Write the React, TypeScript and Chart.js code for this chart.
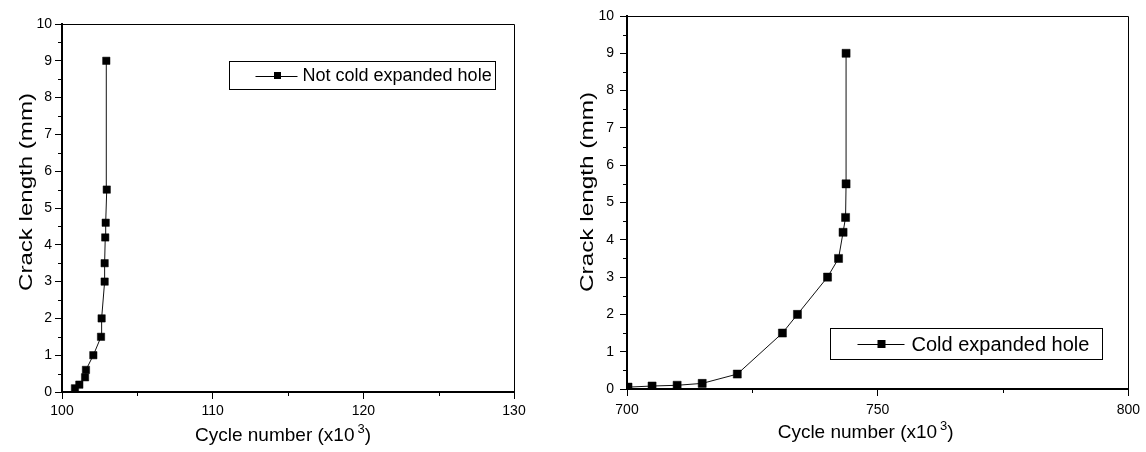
import React, { useEffect, useRef } from 'react';
import { Chart, registerables } from 'chart.js';

Chart.register(...registerables);

// ---- data ----
const leftCycles = [100.86, 101.15, 101.53, 101.59, 102.08, 102.59, 102.63, 102.83, 102.83, 102.87, 102.9, 102.97, 102.94];
const leftCrack = [0.1, 0.2, 0.4, 0.6, 1.0, 1.5, 2.0, 3.0, 3.5, 4.2, 4.6, 5.5, 9.0];
const rightCycles = [700.2, 705, 710, 715, 722, 731, 734, 740, 742.2, 743.1, 743.6, 743.7, 743.7];
const rightCrack = [0.05, 0.08, 0.1, 0.15, 0.4, 1.5, 2.0, 3.0, 3.5, 4.2, 4.6, 5.5, 9.0];

const leftXTicks = [100, 110, 120, 130];
const leftXMinor = [105, 115, 125];
const rightXTicks = [700, 750, 800];
const rightXMinor = [725, 775];
const yTicks = [0, 1, 2, 3, 4, 5, 6, 7, 8, 9, 10];
const yMinor = [0.5, 1.5, 2.5, 3.5, 4.5, 5.5, 6.5, 7.5, 8.5, 9.5];

const leftLabel = 'Not cold expanded hole';
const rightLabel = 'Cold expanded hole';
const xTitleMain = 'Cycle number (x10';
const xTitleSup = '3';
const xTitleEnd = ')';
const yTitle = 'Crack length (mm)';

const FONT = '"Liberation Sans", Arial, Helvetica, sans-serif';

const decorPlugin = {
  id: 'decor',
  afterDraw(chart: any, _args: any, o: any) {
    const ctx = chart.ctx as CanvasRenderingContext2D;
    const a = chart.chartArea;
    const xs = chart.scales.x;
    const ys = chart.scales.y;
    ctx.save();
    // frame (top + right)
    ctx.strokeStyle = '#000';
    ctx.lineWidth = 1;
    ctx.beginPath();
    ctx.moveTo(a.left, Math.round(a.top) + 0.5);
    ctx.lineTo(Math.round(a.right) + 0.5, Math.round(a.top) + 0.5);
    ctx.lineTo(Math.round(a.right) + 0.5, a.bottom);
    ctx.stroke();
    // minor ticks
    ctx.beginPath();
    for (const v of o.xMinor) {
      const px = Math.round(xs.getPixelForValue(v)) + 0.5;
      ctx.moveTo(px, a.bottom);
      ctx.lineTo(px, a.bottom + o.minorLen);
    }
    for (const v of o.yMinor) {
      const py = Math.round(ys.getPixelForValue(v)) + 0.5;
      ctx.moveTo(a.left, py);
      ctx.lineTo(a.left - o.minorLen, py);
    }
    ctx.stroke();

    // legend
    const L = o.legend;
    const bx = Math.round(a.right - L.rightGap - L.w) + 0.5;
    const by = Math.round(a.top + L.topGap) + 0.5;
    ctx.fillStyle = '#fff';
    ctx.fillRect(bx, by, L.w, L.h);
    ctx.strokeStyle = '#000';
    ctx.lineWidth = 1;
    ctx.strokeRect(bx, by, L.w, L.h);
    const cy = by + L.h / 2;
    ctx.beginPath();
    ctx.moveTo(bx + L.lineFrom, Math.round(cy) + 0.5);
    ctx.lineTo(bx + L.lineTo, Math.round(cy) + 0.5);
    ctx.stroke();
    ctx.fillStyle = '#000';
    ctx.fillRect(bx + L.marker - L.ms / 2, cy - L.ms / 2, L.ms, L.ms);
    ctx.font = `${L.font}px ${FONT}`;
    ctx.textAlign = 'left';
    ctx.textBaseline = 'middle';
    ctx.fillText(L.text, bx + L.textX, cy + 1);

    // x title with superscript
    const cx = (a.left + a.right) / 2 + o.xTitleShift;
    ctx.font = `${o.titleFont}px ${FONT}`;
    const w1 = ctx.measureText(xTitleMain).width;
    const w3 = ctx.measureText(xTitleEnd).width;
    ctx.font = `${o.supFont}px ${FONT}`;
    const w2 = ctx.measureText(xTitleSup).width;
    const gap = 3;
    const total = w1 + gap + w2 + w3;
    const x0 = cx - total / 2;
    ctx.textBaseline = 'alphabetic';
    ctx.font = `${o.titleFont}px ${FONT}`;
    ctx.fillText(xTitleMain, x0, o.xTitleBase);
    ctx.font = `${o.supFont}px ${FONT}`;
    ctx.fillText(xTitleSup, x0 + w1 + gap, o.xTitleBase - 8);
    ctx.font = `${o.titleFont}px ${FONT}`;
    ctx.fillText(xTitleEnd, x0 + w1 + gap + w2, o.xTitleBase);

    // y title (rotated, stretched along its length)
    ctx.font = `${o.titleFont}px ${FONT}`;
    const yw = ctx.measureText(yTitle).width;
    ctx.translate(o.yTitleX, o.yTitleY);
    ctx.rotate(-Math.PI / 2);
    ctx.scale(o.yTitleLen / yw, 1);
    ctx.textAlign = 'center';
    ctx.textBaseline = 'middle';
    ctx.fillText(yTitle, 0, 0);
    ctx.restore();
  },
};

function makeConfig(p: any) {
  return {
    type: 'line',
    data: {
      datasets: [
        {
          label: p.label,
          data: p.xs.map((x: number, i: number) => ({ x, y: p.ys[i] })),
          borderColor: '#111',
          borderWidth: 1,
          pointStyle: 'rect',
          pointRadius: p.pointRadius,
          pointBackgroundColor: '#000',
          pointBorderColor: '#000',
          pointBorderWidth: 0.5,
          tension: 0,
          fill: false,
        },
      ],
    },
    options: {
      responsive: false,
      animation: false,
      events: [],
      layout: { padding: p.padding },
      plugins: {
        legend: { display: false },
        tooltip: { enabled: false },
        decor: p.decor,
      },
      scales: {
        x: {
          type: 'linear',
          min: p.xMin,
          max: p.xMax,
          afterBuildTicks: (s: any) => {
            s.ticks = p.xTicks.map((v: number) => ({ value: v }));
          },
          afterFit: (s: any) => {
            s.height = p.xAxisH;
          },
          ticks: {
            color: '#000',
            font: { family: FONT, size: 14 },
            padding: p.xPad,
            maxRotation: 0,
            autoSkip: false,
          },
          grid: { drawOnChartArea: false, color: '#000', tickLength: 7, lineWidth: 1 },
          border: { color: '#000', width: 2 },
        },
        y: {
          type: 'linear',
          min: 0,
          max: 10,
          afterBuildTicks: (s: any) => {
            s.ticks = yTicks.map((v: number) => ({ value: v }));
          },
          afterFit: (s: any) => {
            s.width = p.yAxisW;
          },
          ticks: {
            color: '#000',
            font: { family: FONT, size: 14 },
            padding: p.yPad,
            autoSkip: false,
          },
          grid: { drawOnChartArea: false, color: '#000', tickLength: 7, lineWidth: 1 },
          border: { color: '#000', width: 2 },
        },
      },
    },
    plugins: [decorPlugin],
  };
}

function ChartCanvas(props: { cfg: any; left: number; width: number; height: number }) {
  const ref = useRef<HTMLCanvasElement | null>(null);
  useEffect(() => {
    if (!ref.current) return;
    const chart = new Chart(ref.current, props.cfg);
    return () => chart.destroy();
  }, []);
  return (
    <canvas
      ref={ref}
      width={props.width}
      height={props.height}
      style={{ position: 'absolute', left: props.left, top: 0, width: props.width, height: props.height }}
    />
  );
}

export default function App() {
  const leftCfg = makeConfig({
    label: leftLabel,
    xs: leftCycles,
    ys: leftCrack,
    pointRadius: 5.2,
    padding: { left: 0, right: 56, top: 24, bottom: 0 },
    xMin: 100,
    xMax: 130,
    xTicks: leftXTicks,
    xAxisH: 60,
    yAxisW: 62,
    xPad: 4,
    yPad: 3,
    decor: {
      xMinor: leftXMinor,
      yMinor: yMinor,
      minorLen: 4,
      legend: { text: leftLabel, rightGap: 19, topGap: 37, w: 266, h: 28, lineFrom: 26, lineTo: 68, marker: 48, ms: 7, textX: 73, font: 18 },
      titleFont: 19,
      supFont: 13,
      xTitleShift: -5,
      xTitleBase: 441,
      yTitleX: 27,
      yTitleY: 192,
      yTitleLen: 198,
    },
  });
  const rightCfg = makeConfig({
    label: rightLabel,
    xs: rightCycles,
    ys: rightCrack,
    pointRadius: 5.7,
    padding: { left: 0, right: 14, top: 16, bottom: 0 },
    xMin: 700,
    xMax: 800,
    xTicks: rightXTicks,
    xAxisH: 63,
    yAxisW: 57,
    xPad: 6,
    yPad: 6,
    decor: {
      xMinor: rightXMinor,
      yMinor: yMinor,
      minorLen: 4,
      legend: { text: rightLabel, rightGap: 26, topGap: 312, w: 272, h: 31, lineFrom: 27, lineTo: 74, marker: 51, ms: 8, textX: 81, font: 20 },
      titleFont: 19,
      supFont: 13,
      xTitleShift: -12,
      xTitleBase: 438,
      yTitleX: 18,
      yTitleY: 192,
      yTitleLen: 200,
    },
  });
  return (
    <div style={{ position: 'fixed', left: 0, top: 0, width: 1146, height: 452, overflow: 'hidden', background: '#fff' }}>
      <ChartCanvas cfg={leftCfg} left={0} width={570} height={452} />
      <ChartCanvas cfg={rightCfg} left={570} width={576} height={452} />
    </div>
  );
}
